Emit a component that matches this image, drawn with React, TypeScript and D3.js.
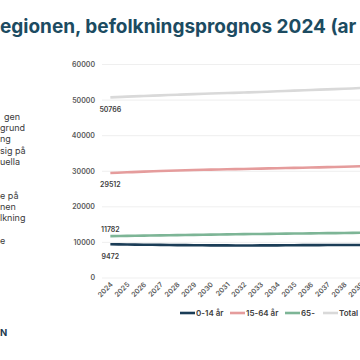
import React from "react";
import * as d3 from "d3";

const width = 360;
const height = 360;

const years = ["2024", "2025", "2026", "2027", "2028", "2029", "2030", "2031", "2032", "2033", "2034", "2035", "2036", "2037", "2038", "2039", "2040"];
const kids = [9472, 9420, 9360, 9300, 9250, 9210, 9180, 9160, 9150, 9160, 9180, 9210, 9240, 9260, 9280, 9290, 9300];
const working = [29512, 29700, 29900, 30050, 30200, 30350, 30450, 30550, 30650, 30750, 30850, 30950, 31050, 31150, 31250, 31400, 31500];
const elderly = [11782, 11850, 11900, 11980, 12050, 12120, 12200, 12260, 12320, 12380, 12440, 12500, 12550, 12600, 12650, 12700, 12740];
const total = [50766, 50970, 51160, 51330, 51500, 51680, 51830, 51970, 52120, 52290, 52470, 52660, 52840, 53010, 53180, 53390, 53540];
const yTicks = [0, 10000, 20000, 30000, 40000, 50000, 60000];

const seriesNames = ["0-14 år", "15-64 år", "65-", "Total"];
const colors = ["#1b3d57", "#e59c9c", "#7db596", "#d9d9d9"];

const sideText1 = ["gen", "grund", "ng", "sig på", "uella"];
const sideText2 = ["e på", "nen", "lkning"];

const font = "Inter, 'Open Sans', sans-serif";

const App = () => {
  const series = [kids, working, elderly, total];
  const band = 16.7;
  const x = d3
    .scaleBand()
    .domain(years)
    .range([102, 102 + band * years.length]);
  const y = d3.scaleLinear().domain([0, 60000]).range([278, 64.5]);
  const cx = (d) => x(d) + x.bandwidth() / 2;

  const line = d3
    .line()
    .x((d, i) => cx(years[i]))
    .y((d) => y(d))
    .curve(d3.curveMonotoneX);

  // data labels for first point: below, below, above, below
  const labelOffset = [12, 12, -7, 12];

  const legendX = [180, 230, 285, 323];

  return (
    <svg
      width={width}
      height={height}
      style={{ position: "absolute", left: 0, top: 0, background: "#fff" }}
      fontFamily={font}
    >
      <rect width={width} height={height} fill="#fff" />
      <text x={0} y={33} fontSize={19} fontWeight={700} fill="#1c4b61">
        egionen, befolkningsprognos 2024 (ar
      </text>

      {sideText1.map((t, i) => (
        <text key={t} x={i === 0 ? 4 : 0} y={120 + i * 11.2} fontSize={9} fill="#3a3a3a">
          {t}
        </text>
      ))}
      {sideText2.map((t, i) => (
        <text key={t} x={0} y={199 + i * 11.2} fontSize={9} fill="#3a3a3a">
          {t}
        </text>
      ))}
      <text x={0} y={244} fontSize={9} fill="#3a3a3a">e</text>
      <text x={0} y={336} fontSize={9.5} fontWeight={700} fill="#1c3a4f">N</text>

      {yTicks.map((t) => (
        <g key={t}>
          <line x1={102} x2={width} y1={y(t)} y2={y(t)} stroke="#ebebeb" strokeWidth={0.8} />
          <text
            x={95}
            y={y(t)}
            dy="0.35em"
            textAnchor="end"
            fontSize={7}
            fontWeight={600}
            fill="#595959"
          >
            {t}
          </text>
        </g>
      ))}

      {years
        .filter((yr) => cx(yr) < width + 5)
        .map((yr) => (
          <text
            key={yr}
            transform={`translate(${cx(yr) + 3},${285}) rotate(-45)`}
            textAnchor="end"
            fontSize={7}
            fontWeight={600}
            fill="#595959"
          >
            {yr}
          </text>
        ))}

      {[3, 1, 2, 0].map((k) => (
        <path
          key={k}
          d={line(series[k])}
          fill="none"
          stroke={colors[k]}
          strokeWidth={2.6}
        />
      ))}

      {series.map((s, k) => (
        <text
          key={k}
          x={cx(years[0])}
          y={y(s[0]) + labelOffset[k]}
          dy="0.35em"
          textAnchor="middle"
          fontSize={7}
          fontWeight={600}
          fill="#404040"
        >
          {s[0]}
        </text>
      ))}

      {seriesNames.map((n, k) => (
        <g key={n}>
          <line
            x1={legendX[k]}
            x2={legendX[k] + 15}
            y1={313}
            y2={313}
            stroke={colors[k]}
            strokeWidth={2.6}
          />
          <text
            x={legendX[k] + 16}
            y={313}
            dy="0.35em"
            fontSize={8}
            fontWeight={600}
            fill="#404040"
          >
            {n}
          </text>
        </g>
      ))}
    </svg>
  );
};

export default App;
